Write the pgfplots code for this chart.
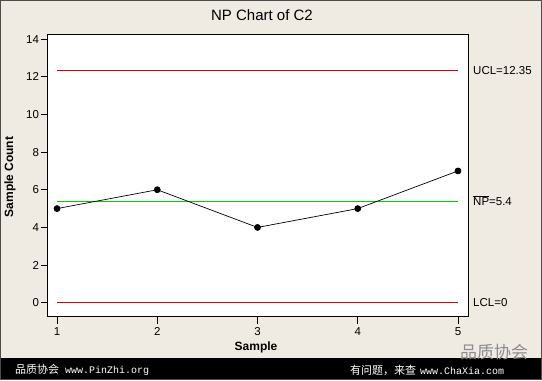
\documentclass[border=0pt]{standalone}
\usepackage{fontspec}
\setmainfont{Liberation Sans}
\setmonofont{Liberation Mono}
\newfontfamily\cjk{Noto Sans CJK SC}
\usepackage{pgfplots}
\pgfplotsset{compat=1.18}
\definecolor{bgbeige}{HTML}{EFEBE3}
\definecolor{uclred}{HTML}{E00000}
\definecolor{clgreen}{HTML}{00D000}
\begin{document}
\begin{tikzpicture}[x=1bp,y=1bp]
\fill[bgbeige] (0,0) rectangle (542,380);
\fill[black] (0,0) rectangle (542,22);
\draw[black!70, line width=1bp] (0.5,0.5) rectangle (541.5,379.5);
\node[font=\fontsize{15bp}{17bp}\selectfont] at (262,365) {NP Chart of C2};
\node[font=\bfseries\fontsize{12bp}{13bp}\selectfont, rotate=90] at (10,203) {Sample Count};
\node[font=\bfseries\fontsize{12bp}{13bp}\selectfont] at (256,33) {Sample};
\node[anchor=west, inner sep=0, text=white] at (15,10) {{\cjk\fontsize{11bp}{12bp}\selectfont 品质协会}\hspace{6bp}{\ttfamily\fontsize{10bp}{12bp}\selectfont www.PinZhi.org}};
\node[anchor=west, inner sep=0, text=white] at (350,10) {{\cjk\fontsize{11bp}{12bp}\selectfont 有问题，来查}\hspace{4bp}{\ttfamily\fontsize{10bp}{12bp}\selectfont www.ChaXia.com}};
\node[anchor=west, inner sep=0, text=black!45, font=\cjk\fontsize{17bp}{18bp}\selectfont] at (460,28) {品质协会};
\begin{axis}[at={(47.7bp,63.3bp)}, anchor=south west, scale only axis,
  width=420.3bp, height=282.7bp,
  xmin=0.907, xmax=5.1, ymin=-0.74, ymax=14.27,
  axis background/.style={fill=white},
  axis line style={line width=0.9bp},
  xtick={1,2,3,4,5}, ytick={0,2,...,14},
  tick align=outside, tick pos=left, major tick length=7bp,
  tick style={line width=0.8bp, black},
  /pgf/number format/assume math mode=true,
  ticklabel style={font=\fontsize{11.5bp}{13bp}\selectfont},
  yticklabel style={inner sep=1.5bp},
  clip=false]
\addplot[uclred, line width=0.6bp] coordinates {(1,12.35) (5,12.35)};
\addplot[clgreen, line width=0.6bp] coordinates {(1,5.4) (5,5.4)};
\addplot[uclred, line width=0.6bp] coordinates {(1,0) (5,0)};
\addplot[black, line width=0.7bp, mark=*, mark size=3bp] coordinates {(1,5) (2,6) (3,4) (4,5) (5,7)};
\node[anchor=west, inner sep=0, xshift=5bp, font=\fontsize{11.5bp}{13bp}\selectfont] at (axis cs:5.1,12.35) {UCL=12.35};
\node[anchor=west, inner sep=0, xshift=5bp, font=\fontsize{11.5bp}{13bp}\selectfont] at (axis cs:5.1,5.4) {$\overline{\hbox{NP}}$=5.4};
\node[anchor=west, inner sep=0, xshift=5bp, font=\fontsize{11.5bp}{13bp}\selectfont] at (axis cs:5.1,0) {LCL=0};
\end{axis}
\end{tikzpicture}
\end{document}
